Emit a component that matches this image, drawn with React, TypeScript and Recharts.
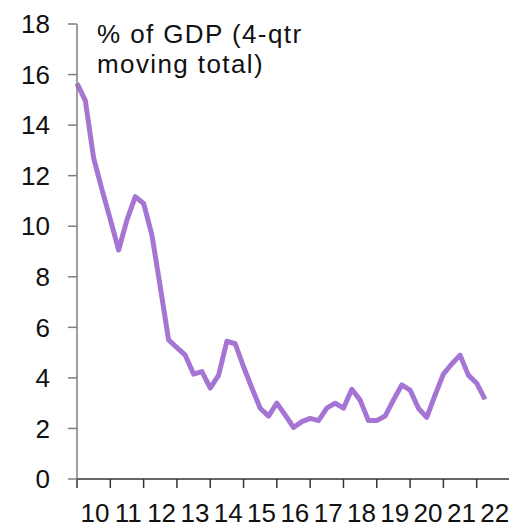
import React from 'react';
import { LineChart, Line, XAxis, YAxis } from 'recharts';

// year labels, one per band of 4 quarters
const years = ['10', '11', '12', '13', '14', '15', '16', '17', '18', '19', '20', '21', '22'];

// % of GDP, 4-qtr moving total, quarterly from 2010Q1
const values = [
  15.65, 14.97, 12.69, 11.45, 10.27, 9.06, 10.25, 11.17, 10.9, 9.65,
  7.6, 5.5, 5.2, 4.9, 4.15, 4.25, 3.6, 4.1, 5.45, 5.35,
  4.44, 3.6, 2.8, 2.49, 3.0, 2.53, 2.04, 2.27, 2.4, 2.31,
  2.8, 3.0, 2.8, 3.55, 3.12, 2.31, 2.31, 2.49, 3.12, 3.72,
  3.52, 2.8, 2.44, 3.32, 4.15, 4.55, 4.9, 4.11, 3.79, 3.15,
];

const yTicks = [0, 2, 4, 6, 8, 10, 12, 14, 16, 18];
const xTicks = years.map((_, i) => i * 4).concat([years.length * 4]);

const chartData = values.map((v, i) => ({ q: i, value: v }));

const FONT = '"Liberation Sans", Arial, sans-serif';

const YearTick = ({ x, y, payload }: any) => {
  const idx = payload.value / 4;
  if (idx >= years.length) return null;
  return (
    <text x={x + 18} y={y + 32} textAnchor="middle" fontSize={26} fontFamily={FONT} fill="#111">
      {years[idx]}
    </text>
  );
};

export default function App() {
  return (
    <div style={{ position: 'fixed', left: 0, top: 0, width: 509, height: 528, overflow: 'hidden', background: '#fff' }}>
      <LineChart
        width={520}
        height={528}
        data={chartData}
        margin={{ top: 24, right: 10, left: 0, bottom: 0 }}
      >
        <XAxis
          dataKey="q"
          type="number"
          domain={[0, years.length * 4]}
          ticks={xTicks}
          interval={0}
          height={49}
          tickSize={9}
          stroke="#333"
          strokeWidth={1.5}
          tick={<YearTick />}
        />
        <YAxis
          domain={[0, 18]}
          ticks={yTicks}
          interval={0}
          width={77}
          tickSize={9}
          tickMargin={18}
          stroke="#7f7f7f"
          strokeWidth={1.5}
          tick={{ fill: '#111', fontSize: 26, fontFamily: FONT }}
        />
        <Line
          type="linear"
          dataKey="value"
          stroke="#A675D3"
          strokeWidth={5}
          strokeLinejoin="round"
          dot={false}
          isAnimationActive={false}
        />
      </LineChart>
      <div
        style={{
          position: 'absolute',
          left: 97,
          top: 19,
          fontFamily: FONT,
          fontSize: 26,
          lineHeight: '30px',
          letterSpacing: 1.4,
          color: '#111',
        }}
      >
        % of GDP (4-qtr
        <br />
        moving total)
      </div>
    </div>
  );
}
